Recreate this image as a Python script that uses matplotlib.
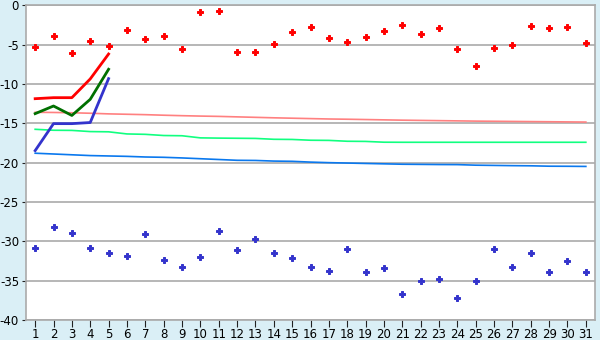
import matplotlib
matplotlib.use('Agg')
from matplotlib import pyplot as plt

plt.rcParams['axes.unicode_minus'] = False

days = list(range(1, 32))

# scattered daily values
red_pts = [-5.34, -3.9, -6.1, -4.58, -5.17, -3.18, -4.28, -3.9, -5.6, -0.9,
           -0.77, -5.97, -5.97, -4.96, -3.43, -2.8, -4.2, -4.7, -4.07, -3.3,
           -2.54, -3.68, -2.92, -5.6, -7.75, -5.46, -5.08, -2.67, -2.92, -2.8, -4.83]
blue_pts = [-30.88, -28.2, -28.97, -30.88, -31.5, -31.9, -29.1, -32.4, -33.2, -32.0,
            -28.7, -31.1, -29.7, -31.5, -32.1, -33.3, -33.76, -31.0, -33.9, -33.4,
            -36.7, -35.07, -34.8, -37.2, -35.07, -31.0, -33.3, -31.5, -33.9, -32.5, -33.9]

# first five days only
line_days = [1, 2, 3, 4, 5]
red_line = [-11.87, -11.74, -11.74, -9.36, -6.19]
green_line = [-13.77, -12.8, -14.0, -11.95, -8.13]
blue_line = [-18.47, -15.04, -15.04, -14.9, -9.32]

# thin reference lines
pink_ref = [-13.6, -13.62, -13.66, -13.72, -13.8, -13.85, -13.9, -13.97, -14.03, -14.08,
            -14.12, -14.18, -14.24, -14.3, -14.35, -14.4, -14.45, -14.48, -14.52, -14.56,
            -14.6, -14.63, -14.66, -14.69, -14.72, -14.74, -14.76, -14.78, -14.8, -14.82, -14.84]
green_ref = [-15.76, -15.88, -15.9, -16.05, -16.08, -16.35, -16.4, -16.55, -16.58, -16.85,
             -16.88, -16.9, -16.92, -17.03, -17.05, -17.15, -17.17, -17.28, -17.3, -17.4,
             -17.41, -17.41, -17.41, -17.41, -17.41, -17.41, -17.41, -17.41, -17.41, -17.41, -17.41]
blue_ref = [-18.8, -18.9, -19.0, -19.1, -19.15, -19.2, -19.28, -19.32, -19.4, -19.5,
            -19.6, -19.7, -19.72, -19.8, -19.83, -19.93, -20.0, -20.05, -20.1, -20.15,
            -20.2, -20.22, -20.24, -20.25, -20.32, -20.35, -20.38, -20.4, -20.45, -20.46, -20.48]

y_ticks = [0, -5, -10, -15, -20, -25, -30, -35, -40]

fig = plt.figure(figsize=(6, 3.4), dpi=100, facecolor='#daeff6')
ax = fig.add_axes([0.0433, 0.0588, 0.9484, 0.9256])
ax.set_facecolor('white')

ax.plot(days, pink_ref, color='#ff8080', lw=1.2, zorder=2)
ax.plot(days, green_ref, color='#11ff80', lw=1.2, zorder=2)
ax.plot(days, blue_ref, color='#0a78ee', lw=1.2, zorder=2)

ax.plot(line_days, red_line, color='#ff0000', lw=2, zorder=3)
ax.plot(line_days, green_line, color='#007000', lw=2, zorder=3)
ax.plot(line_days, blue_line, color='#3333cc', lw=2, zorder=3)

ax.plot(days, red_pts, ls='none', marker='P', ms=4.5, color='#ff0000', mew=0.7, zorder=4)
ax.plot(days, blue_pts, ls='none', marker='P', ms=4.5, color='#3333cc', mew=0.7, zorder=4)

ax.set_xlim(0.5, 31.5)
ax.set_ylim(-40, 0)
ax.set_xticks(days)
ax.set_yticks(y_ticks)
ax.yaxis.grid(True, color='#aaaaaa', lw=1.2)
ax.set_axisbelow(True)
for s in ax.spines.values():
    s.set_color('#aaaaaa')
    s.set_linewidth(1.2)
ax.tick_params(axis='x', direction='out', length=5, color='#222222', labelsize=8.5, pad=1)
ax.tick_params(axis='y', direction='out', length=3, color='#222222', labelsize=8.5, pad=2)

fig.savefig('out.png', dpi=100, facecolor=fig.get_facecolor())
